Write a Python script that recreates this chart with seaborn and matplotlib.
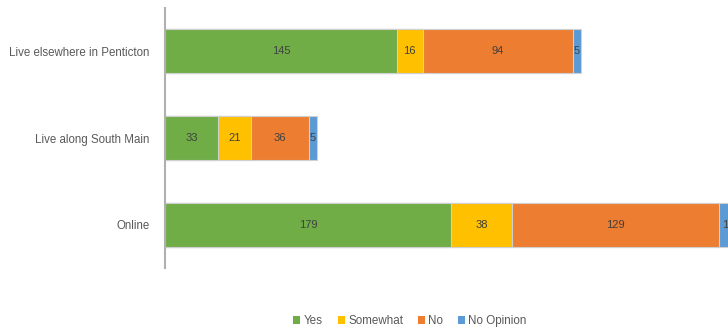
import matplotlib
matplotlib.use("Agg")
import matplotlib.pyplot as plt
import seaborn as sns
import pandas as pd
import numpy as np
from matplotlib.patches import Patch

# Survey responses by group
groups = ["Live elsewhere in Penticton", "Live along South Main", "Online"]
responses = ["Yes", "Somewhat", "No", "No Opinion"]
yes = [145, 33, 179]
somewhat = [16, 21, 38]
no = [94, 36, 129]
no_opinion = [5, 5, 12]

colors = ["#70AD47", "#FFC000", "#ED7D31", "#5B9BD5"]

sns.set_theme(style="white")
plt.rcParams["font.family"] = ["Liberation Sans", "DejaVu Sans"]

series = [yes, somewhat, no, no_opinion]
cum = np.cumsum(np.array(series), axis=0)  # running totals per group

W, H = 728, 329
fig = plt.figure(figsize=(W / 100, H / 100), dpi=100)
px_per_unit = 1.6
xmax = 400
left_px, top_px, bottom_px = 165, 8, 268
ax = fig.add_axes([left_px / W, (H - bottom_px) / H,
                   xmax * px_per_unit / W, (bottom_px - top_px) / H])

# Stacked bars: draw running totals from the largest down so each
# segment shows through
for i in range(len(responses) - 1, -1, -1):
    df = pd.DataFrame({"group": groups, "value": cum[i]})
    sns.barplot(data=df, y="group", x="value", orient="h", ax=ax,
                color=colors[i], width=0.51, saturation=1,
                edgecolor="#d0d0d0", linewidth=0.8)

# Value labels centred in each segment
for i, vals in enumerate(series):
    starts = cum[i] - np.array(vals)
    for j, v in enumerate(vals):
        ax.text(starts[j] + v / 2, j, str(v), ha="center", va="center",
                fontsize=8, color="#404040")

ax.set_xlim(0, xmax)
ax.set_ylim(2.5, -0.5)
ax.set_xlabel("")
ax.set_ylabel("")
ax.set_xticks([])
ax.tick_params(axis="y", length=0, pad=11, labelsize=8.3, labelcolor="#595959")
for s in ["top", "right", "bottom"]:
    ax.spines[s].set_visible(False)
ax.spines["left"].set_color("#b0b0b0")
ax.spines["left"].set_linewidth(1.5)

handles = [Patch(facecolor=c, edgecolor="none", label=r) for c, r in zip(colors, responses)]
fig.legend(handles=handles, loc="center", bbox_to_anchor=(410 / W, 1 - 321 / H),
           ncol=4, frameon=False, fontsize=8.4, handlelength=0.6, handleheight=0.6,
           handletextpad=0.3, columnspacing=1.25, labelcolor="#595959")

fig.savefig("out.png", dpi=100)
